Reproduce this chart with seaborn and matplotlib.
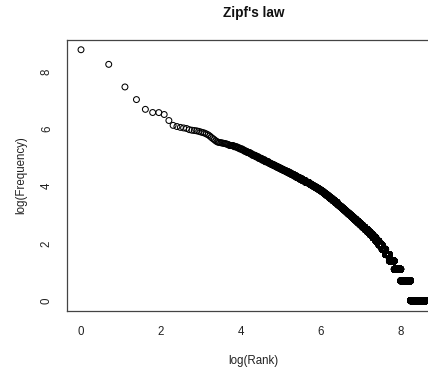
import numpy as np
import pandas as pd
import matplotlib
matplotlib.use("Agg")
import matplotlib.pyplot as plt
import seaborn as sns

# counts of the most frequent words, one value per rank
top_counts = [6380, 3830, 1740, 1120, 796, 713, 711, 665, 539, 455,
              437, 424, 416, 408, 392, 384, 380, 376, 369, 361,
              354, 347, 337, 327, 314, 299, 287, 276, 265, 257,
              252, 250, 248, 246, 244, 242, 240, 237, 235, 232]

# rest of the vocabulary as a frequency spectrum:
# a word count and how many words share that count
spectrum_freq = [225, 216, 208, 200, 192, 184, 176, 168, 160, 152, 144, 136, 128,
                 122, 118, 114, 110, 106, 102, 98, 94, 90, 86, 82, 78, 74, 70, 66, 62,
                 59, 57, 55, 53, 51, 49, 47, 45, 43, 41, 39, 37, 35, 33, 31,
                 29, 28, 27, 26, 25, 24, 23, 22, 21, 20, 19, 18, 17, 16, 15,
                 14, 13, 12, 11, 10, 9, 8, 7, 6,
                 5, 4, 3, 2, 1]
spectrum_words = [5, 4, 3, 4, 3, 4, 5, 4, 6, 6, 7, 8, 9,
                  5, 6, 7, 6, 8, 8, 9, 10, 12, 12, 13, 14, 16, 19, 21, 25,
                  13, 13, 15, 17, 17, 18, 18, 18, 18, 21, 22, 24, 27, 30, 35,
                  19, 19, 22, 21, 23, 25, 26, 27, 31, 34, 37, 41, 45, 49, 56,
                  60, 70, 80, 90, 100, 110, 125, 145, 170,
                  200, 290, 440, 820, 1820]

freqs = np.concatenate([top_counts, np.repeat(spectrum_freq, spectrum_words)])
freqs = np.sort(freqs)[::-1]
ranks = np.arange(1, len(freqs) + 1)
df = pd.DataFrame({"logrank": np.log(ranks), "logfreq": np.log(freqs)})

sns.set_style("white")
plt.rcParams["font.family"] = ["Liberation Sans", "DejaVu Sans"]

W, H = 428, 367
fig = plt.figure(figsize=(W / 100, H / 100), dpi=100)

# base-graphics style ranges: data range padded by 4% on each side
def padded(lo, hi):
    d = 0.04 * (hi - lo)
    return lo - d, hi + d

xlim = padded(df.logrank.min(), df.logrank.max())
ylim = padded(df.logfreq.min(), df.logfreq.max())

# plot region in pixels: x = 0 sits at 81 px, 40 px per unit; y spans 39.7..310.7 px
x0_px, x_scale = 81.0, 40.0
left_px = x0_px + x_scale * xlim[0]
right_px = x0_px + x_scale * xlim[1]
top_px, bottom_px = 39.7, 310.7
ax = fig.add_axes([left_px / W, 1 - bottom_px / H,
                   (right_px - left_px) / W, (bottom_px - top_px) / H])

sns.scatterplot(data=df, x="logrank", y="logfreq", ax=ax, marker="o",
                s=18, facecolors="none", edgecolor="black", linewidth=0.75,
                legend=False)

ax.set_xlim(*xlim)
ax.set_ylim(*ylim)
ax.set_xticks([0, 2, 4, 6, 8])
ax.set_yticks([0, 2, 4, 6, 8])

edge = "#444444"
for sp in ax.spines.values():
    sp.set_visible(True)
    sp.set_color(edge)
    sp.set_linewidth(0.9)

ax.tick_params(axis="both", direction="out", length=4.3, width=0.75,
               color=edge, labelsize=8.3, labelcolor="#222222")
ax.tick_params(axis="x", pad=7)
ax.tick_params(axis="y", pad=6, labelrotation=90)
for lab in ax.get_yticklabels():
    lab.set_va("center")

ax.set_xlabel("log(Rank)", fontsize=8.3, color="#222222", labelpad=12)
ax.set_ylabel("log(Frequency)", fontsize=8.3, color="#222222", labelpad=10)
ax.set_title("Zipf's law", fontsize=9.8, fontweight="bold", color="#111111", pad=16)

fig.savefig("out.png", dpi=100)
